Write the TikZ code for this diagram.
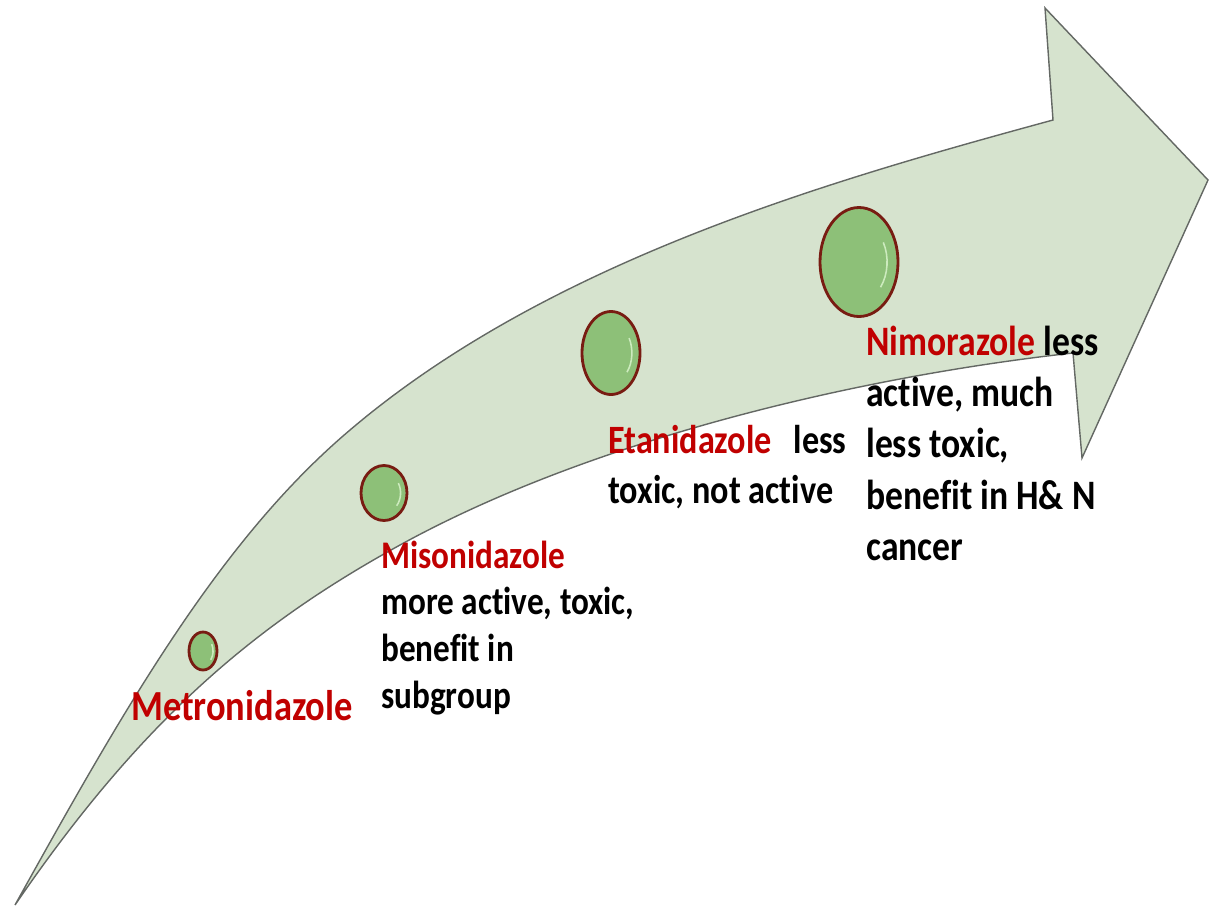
\documentclass[tikz,border=0pt]{standalone}
\usepackage{fontspec}
\setmainfont{Carlito}[FakeStretch=0.85, Ligatures=NoCommon]
\usetikzlibrary{shapes.geometric,calc}

\definecolor{bandfill}{RGB}{214,227,206}
\definecolor{bandline}{RGB}{100,104,100}
\definecolor{drugred}{RGB}{192,0,0}
\definecolor{dotfill}{RGB}{141,192,120}
\definecolor{dotring}{RGB}{120,28,18}
\definecolor{dotlight}{RGB}{205,235,190}

\begin{document}
\begin{tikzpicture}[
  x=0.025cm, y=-0.025cm,
  dot/.style={ellipse, draw=dotring, fill=dotfill, line width=2pt, inner sep=0pt,
    path picture={\draw[dotlight, line width=1.1pt]
      let \p1=(path picture bounding box.north east), \p2=(path picture bounding box.center) in
      ($(\p2)+({0.72*(\x1-\x2)*cos(-40)},{0.72*(\y1-\y2)*sin(-40)})$)
      arc[start angle=-40, end angle=30, x radius={0.72*(\x1-\x2)}, y radius={0.72*(\y1-\y2)}];}},
  label/.style={anchor=base west, inner sep=0pt, font=\bfseries},
  drug/.style={text=drugred}
]

\useasboundingbox (0,0) rectangle (1209,910);

\filldraw[fill=bandfill, draw=bandline, line width=1pt, line join=miter]
  (15,905) .. controls (125,707) and (220,540) .. (350,430)
  .. controls (550,260) and (833,180) .. (1053,120)
  -- (1045,8) -- (1208,180) -- (1082,458) -- (1073,353)
  .. controls (873,375) and (600,435) .. (400,545)
  .. controls (260,622) and (145,715) .. (15,905) -- cycle;

\node[dot, minimum width=28*0.025cm, minimum height=38*0.025cm] (metro) at (203,651) {};
\node[dot, minimum width=46*0.025cm, minimum height=55*0.025cm] (miso) at (384,493) {};
\node[dot, minimum width=58*0.025cm, minimum height=83*0.025cm] (etan) at (611,353) {};
\node[dot, minimum width=78*0.025cm, minimum height=109*0.025cm] (nimo) at (859,262) {};

\node[label, drug] (metrotext) at (131,720) {\fontsize{30.5}{33}\selectfont Metronidazole};

\node[label] (misotext) at (381,568) {\fontsize{27.8}{33.4}\selectfont
  \begin{tabular}[t]{@{}l@{}}
  \textcolor{drugred}{Misonidazole}\\
  more active, toxic,\\
  benefit in\\
  subgroup
  \end{tabular}
};

\node[label] (etantext) at (608,453) {\fontsize{28.6}{35.6}\selectfont
  \begin{tabular}[t]{@{}l@{}}
  \textcolor{drugred}{Etanidazole}\hspace{0.35em} less\\
  toxic, not active
  \end{tabular}
};

\node[label] (nimotext) at (866,355) {\fontsize{29.8}{36.6}\selectfont
  \begin{tabular}[t]{@{}l@{}}
  \textcolor{drugred}{Nimorazole} less\\
  active, much\\
  less toxic,\\
  benefit in H\& N\\
  cancer
  \end{tabular}
};

\end{tikzpicture}
\end{document}
